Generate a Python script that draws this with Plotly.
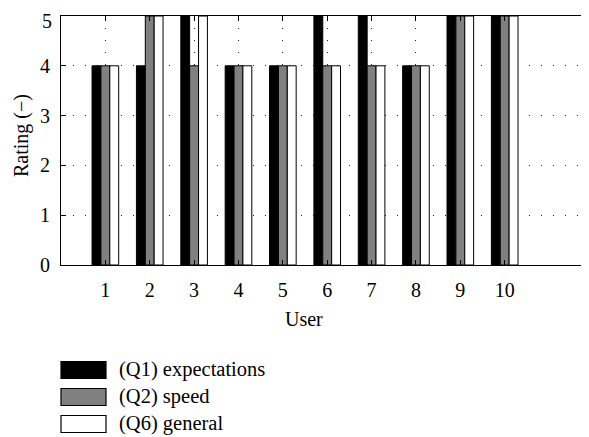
import plotly.graph_objects as go

users = [1, 2, 3, 4, 5, 6, 7, 8, 9, 10]
q1_expectations = [4, 4, 5, 4, 4, 5, 5, 4, 5, 5]
q2_speed = [4, 5, 4, 4, 4, 4, 4, 4, 5, 5]
q6_general = [4, 5, 5, 4, 4, 4, 4, 4, 5, 5]
series_names = ["(Q1) expectations", "(Q2) speed", "(Q6) general"]
series_colors = ["#000000", "#808080", "#ffffff"]
y_ticks = [0, 1, 2, 3, 4, 5]

# page body has an 8px margin; size the figure so it fills the 589x437 window
OFF = 8
W, H = 589 - OFF, 437 - OFF
L, R, T = 61 - OFF, 0, 16 - OFF
B = H - (265 - OFF)
FONT = "Liberation Serif, Times New Roman, serif"

fig = go.Figure()
for name, vals, col in zip(series_names, [q1_expectations, q2_speed, q6_general], series_colors):
    fig.add_trace(go.Bar(x=users, y=vals, name=name,
                         marker=dict(color=col, line=dict(color="black", width=1)),
                         showlegend=False))

pw = W - L - R
ph = H - T - B
def px2paper_x(px):
    # px given in page (window) pixels
    return (px - OFF - L) / pw
def px2paper_y(py):
    return (H - B - (py - OFF)) / ph

shapes = []
annotations = []
row_y = [370, 397, 424]
for name, col, cy in zip(series_names, series_colors, row_y):
    shapes.append(dict(type="rect", xref="paper", yref="paper",
                       x0=px2paper_x(61), x1=px2paper_x(106),
                       y0=px2paper_y(cy - 8.5), y1=px2paper_y(cy + 8.5),
                       fillcolor=col, line=dict(color="black", width=1.2)))
    annotations.append(dict(text=name, xref="paper", yref="paper", x=px2paper_x(117), y=px2paper_y(cy),
                            xanchor="left", yanchor="middle", showarrow=False, yshift=1,
                            font=dict(family=FONT, size=20.5, color="black")))

annotations.append(dict(text="User", xref="paper", yref="paper", x=px2paper_x(304), y=px2paper_y(319),
                        xanchor="center", yanchor="middle", showarrow=False,
                        font=dict(family=FONT, size=20, color="black")))
annotations.append(dict(text="Rating (\u2212)", xref="paper", yref="paper", x=px2paper_x(21), y=px2paper_y(136),
                        xanchor="center", yanchor="middle", showarrow=False, textangle=-90,
                        font=dict(family=FONT, size=20, color="black")))
# top tick label placed so its text box stays inside the figure
annotations.append(dict(text=str(y_ticks[-1]), xref="paper", yref="paper", x=px2paper_x(54), y=1.0,
                        xanchor="right", yanchor="top", yshift=T, showarrow=False,
                        font=dict(family=FONT, size=20, color="black")))

fig.update_layout(
    width=W, height=H,
    margin=dict(l=L, r=R, t=T, b=B, autoexpand=False),
    paper_bgcolor="white", plot_bgcolor="white",
    barmode="group", bargap=0.4, bargroupgap=0,
    font=dict(family=FONT, size=20, color="black"),
    shapes=shapes, annotations=annotations,
    xaxis=dict(range=[0, 11.9], tickmode="array", tickvals=users, ticktext=[str(u) for u in users],
               ticks="inside", ticklen=5, tickcolor="black", showline=True, linecolor="black", linewidth=1,
               mirror="ticks", showgrid=True, gridcolor="#222", gridwidth=1, griddash="1px,11px",
               zeroline=False, ticklabelstandoff=7),
    yaxis=dict(range=[0, 5], tickmode="array", tickvals=y_ticks,
               ticktext=[str(v) for v in y_ticks[:-1]] + [""],
               ticks="inside", ticklen=5, tickcolor="black", showline=True, linecolor="black", linewidth=1,
               mirror="ticks", showgrid=True, gridcolor="#222", gridwidth=1, griddash="1px,11px",
               zeroline=False, ticklabelstandoff=6),
)

fig.write_html("out.html")
